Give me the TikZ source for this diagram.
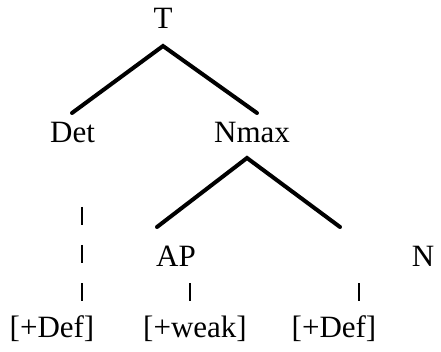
\documentclass[tikz,border=0pt]{standalone}
\usepackage{fontspec}
\setmainfont{Liberation Serif}
\begin{document}
\begin{tikzpicture}[x=1pt, y=-1pt,
    lbl/.style={anchor=base, inner sep=0pt, font=\fontsize{31}{37}\selectfont},
    branch/.style={line width=4pt, line cap=round},
    tick/.style={line width=2.3pt}]
    \useasboundingbox (0,0) rectangle (441,352);

    % Labels, set on their baselines
    \node[lbl] (T) at (163,29) {T};
    \node[lbl] (Det) at (72.5,143) {Det};
    \node[lbl] (Nmax) at (252,143) {Nmax};
    \node[lbl] (AP) at (176,267) {AP};
    \node[lbl] (N) at (423,267) {N};
    \node[lbl] (defL) at (52,337) {[+Def]};
    \node[lbl] (weak) at (195,337) {[+weak]};
    \node[lbl] (defR) at (334,337) {[+Def]};

    % Branch points
    \coordinate (T-root) at (163,46);
    \coordinate (Det-end) at (72,113);
    \coordinate (Nmax-end) at (257,113);
    \coordinate (Nmax-root) at (247,158);
    \coordinate (AP-end) at (157,227);
    \coordinate (N-end) at (340,227);

    % Tree branches
    \draw[branch] (Det-end) -- (T-root) -- (Nmax-end);
    \draw[branch] (AP-end) -- (Nmax-root) -- (N-end);

    % Feature links
    \coordinate (det-a) at (82,207);
    \coordinate (det-b) at (82,301);
    \coordinate (ap-a) at (190,283);
    \coordinate (ap-b) at (190,301);
    \coordinate (n-a) at (359,283);
    \coordinate (n-b) at (359,301);
    \draw[tick, dash pattern=on 18pt off 20pt] (det-a) -- (det-b);
    \draw[tick] (ap-a) -- (ap-b);
    \draw[tick] (n-a) -- (n-b);
\end{tikzpicture}
\end{document}
